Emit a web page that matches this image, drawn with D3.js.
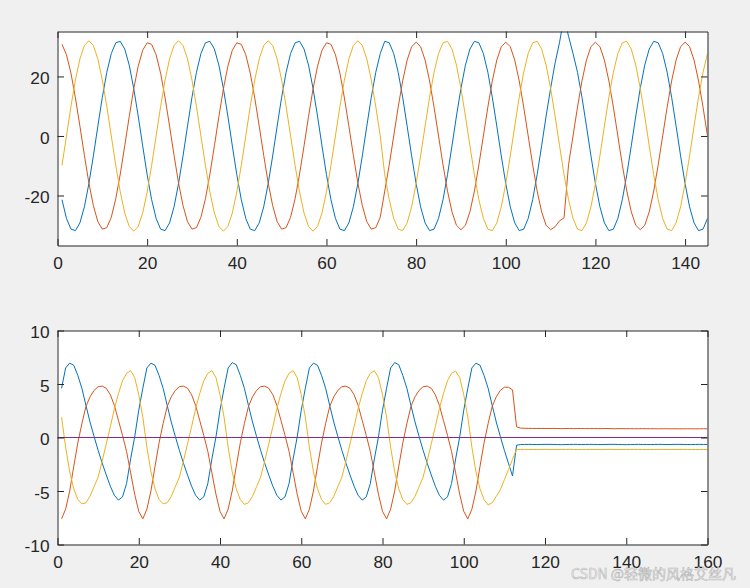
<!DOCTYPE html>
<html><head><meta charset="utf-8">
<script src="https://cdn.jsdelivr.net/npm/d3@7/dist/d3.min.js"></script>
<style>html,body{margin:0;padding:0;background:#f0f0f0;} svg{display:block;}</style>
</head><body>
<svg id="chart" width="750" height="588"></svg>
<script>
// ---------- data: top subplot (samples 1..145) ----------
const topBlue = [
-21.4,-27.7,-31.3,-31.8,-29.2,-23.8,-16.0,-6.7,3.3,13.0,21.4,27.7,31.3,31.8,29.2,23.8,16.0,6.7,-3.3,-13.0,
-21.4,-27.7,-31.3,-31.8,-29.2,-23.8,-16.0,-6.7,3.3,13.0,21.4,27.7,31.3,31.8,29.2,23.8,16.0,6.7,-3.3,-13.0,
-21.4,-27.7,-31.3,-31.8,-29.2,-23.8,-16.0,-6.7,3.3,13.0,21.4,27.7,31.3,31.8,29.2,23.8,16.0,6.7,-3.3,-13.0,
-21.4,-27.7,-31.3,-31.8,-29.2,-23.8,-16.0,-6.7,3.3,13.0,21.4,27.7,
31.8,31.3,27.7,21.4,13.0,3.3,-6.7,-16.0,
-23.8,-29.2,-31.8,-31.3,-27.7,-21.4,-13.0,-3.3,6.7,16.0,23.8,29.2,31.8,31.3,27.7,21.4,13.0,3.3,-6.7,-16.0,
-23.8,-29.2,-31.8,-31.3,-27.7,-21.4,-13.0,-3.3,6.7,16.0,24.5,31.5,40.0,33.5,27.7,21.4,13.0,3.3,-6.7,-16.0,
-23.8,-29.2,-31.8,-31.3,-27.7,-21.4,-13.0,-3.3,6.7,16.0,23.8,29.2,31.8,31.3,27.7,21.4,13.0,3.3,-6.7,-16.0,
-23.8,-29.2,-31.8,-31.3,-27.7
];
const topRed = [
30.8,27.3,21.1,12.8,3.3,-6.5,-15.8,-23.4,-28.8,-31.3,-30.8,-27.3,-21.1,-12.8,-3.3,6.5,15.8,23.4,28.8,31.3,
30.8,27.3,21.1,12.8,3.3,-6.5,-15.8,-23.4,-28.8,-31.3,-30.8,-27.3,-21.1,-12.8,-3.3,6.5,15.8,23.4,28.8,31.3,
30.8,27.3,21.1,12.8,3.3,-6.5,-15.8,-23.4,-28.8,-31.3,-30.8,-27.3,-21.1,-12.8,-3.3,6.5,15.8,23.4,28.8,31.3,
30.8,27.3,21.1,12.8,3.3,-6.5,-15.8,-23.4,-28.8,-31.3,-30.8,-27.3,
-18.5,-9.7,0,9.7,18.5,25.5,30.0,31.5,
30.0,25.5,18.5,9.7,0,-9.7,-18.5,-25.5,-30.0,-31.5,-30.0,-25.5,-18.5,-9.7,0,9.7,18.5,25.5,30.0,31.5,
30.0,25.5,18.5,9.7,0,-9.7,-18.5,-25.5,-30.0,-31.5,-30.5,-28.5,-27.5,-9.7,0,9.7,18.5,25.5,30.0,31.5,
30.0,25.5,18.5,9.7,0,-9.7,-18.5,-25.5,-30.0,-31.5,-30.0,-25.5,-18.5,-9.7,0,9.7,18.5,25.5,30.0,31.5,
30.0,25.5,18.5,9.7,0
];
const topYellow = [
-9.9,0,9.9,18.8,25.9,30.4,32.0,30.4,25.9,18.8,9.9,0,-9.9,-18.8,-25.9,-30.4,-32.0,-30.4,-25.9,-18.8,
-9.9,0,9.9,18.8,25.9,30.4,32.0,30.4,25.9,18.8,9.9,0,-9.9,-18.8,-25.9,-30.4,-32.0,-30.4,-25.9,-18.8,
-9.9,0,9.9,18.8,25.9,30.4,32.0,30.4,25.9,18.8,9.9,0,-9.9,-18.8,-25.9,-30.4,-32.0,-30.4,-25.9,-18.8,
-9.9,0,9.9,18.8,25.9,30.4,32.0,30.4,25.9,18.8,9.9,0,
-13.0,-21.4,-27.7,-31.3,-31.8,-29.2,-23.8,-16.0,
-6.7,3.3,13.0,21.4,27.7,31.3,31.8,29.2,23.8,16.0,6.7,-3.3,-13.0,-21.4,-27.7,-31.3,-31.8,-29.2,-23.8,-16.0,
-6.7,3.3,13.0,21.4,27.7,31.3,31.8,29.2,23.8,16.0,6.7,-3.3,-13.0,-21.4,-27.7,-31.3,-31.8,-29.2,-23.8,-16.0,
-6.7,3.3,13.0,21.4,27.7,31.3,31.8,29.2,23.8,16.0,6.7,-3.3,-13.0,-21.4,-27.7,-31.3,-31.8,-29.2,-23.8,-16.0,
-6.7,3.3,13.0,21.4,27.7
];

// ---------- data: bottom subplot (samples 1..160) ----------
const botBlue = [
4.6,6.5,6.95,6.75,5.8,4.6,3.0,1.45,0.1,-1.2,-2.4,-3.5,-4.55,-5.4,-5.85,-5.55,-4.3,-2.0,0.05,2.55,
4.6,6.5,6.95,6.75,5.8,4.6,3.0,1.45,0.1,-1.2,-2.4,-3.5,-4.55,-5.4,-5.85,-5.55,-4.3,-2.0,0.05,2.55,
4.6,6.5,7.0,6.8,5.8,4.6,3.0,1.45,0.1,-1.2,-2.4,-3.5,-4.55,-5.4,-5.85,-5.55,-4.3,-2.0,0.05,2.55,
4.6,6.5,6.95,6.75,5.8,4.6,3.0,1.45,0.1,-1.2,-2.4,-3.5,-4.55,-5.4,-5.85,-5.55,-4.3,-2.0,0.05,2.55,
4.6,6.5,7.0,6.8,5.8,4.6,3.0,1.45,0.1,-1.2,-2.4,-3.5,-4.55,-5.4,-5.85,-5.55,-4.3,-2.0,0.05,2.55,
4.6,6.5,6.95,6.75,5.8,4.6,3.0,1.45,0.1,-1.2,-2.4,-3.6,
-0.72,
-0.66,-0.65,-0.64,-0.65,-0.66,-0.65,-0.64,-0.64,-0.65,-0.66,-0.67,-0.66,-0.65,-0.64,-0.65,-0.66,-0.65,-0.64,-0.65,-0.66,
-0.66,-0.65,-0.64,-0.64,-0.65,-0.66,-0.67,-0.66,-0.65,-0.64,-0.65,-0.65,-0.66,-0.65,-0.64,-0.65,-0.66,-0.65,-0.64,-0.64,
-0.65,-0.66,-0.66,-0.65,-0.64,-0.65,-0.65
];
const botRed = [
-7.6,-6.7,-5.0,-2.7,-0.5,1.3,2.9,3.8,4.4,4.75,4.8,4.6,4.0,3.0,1.6,0.2,-1.3,-3.3,-5.3,-6.9,
-7.6,-6.7,-5.0,-2.7,-0.5,1.3,2.9,3.8,4.4,4.75,4.8,4.6,4.0,3.0,1.6,0.2,-1.3,-3.3,-5.3,-6.9,
-7.6,-6.7,-5.0,-2.7,-0.5,1.3,2.9,3.8,4.4,4.75,4.8,4.6,4.0,3.0,1.6,0.2,-1.3,-3.3,-5.3,-6.9,
-7.6,-6.7,-5.0,-2.7,-0.5,1.3,2.9,3.8,4.4,4.75,4.8,4.6,4.0,3.0,1.6,0.2,-1.3,-3.3,-5.3,-6.9,
-7.6,-6.7,-5.0,-2.7,-0.5,1.3,2.9,3.8,4.4,4.75,4.8,4.6,4.0,3.0,1.6,0.2,-1.3,-3.3,-5.3,-6.9,
-7.6,-6.7,-5.0,-2.7,-0.5,1.3,2.9,3.8,4.4,4.7,4.7,4.45,
1.0,
0.88,0.86,0.85,0.85,0.84,0.85,0.84,0.84,0.85,0.84,0.83,0.84,0.84,0.83,0.84,0.84,0.83,0.83,0.84,0.83,
0.83,0.84,0.83,0.82,0.83,0.83,0.82,0.83,0.82,0.82,0.83,0.82,0.82,0.82,0.81,0.82,0.82,0.81,0.82,0.81,
0.81,0.82,0.81,0.81,0.81,0.82,0.81
];
const botYellow = [
1.9,-0.9,-3.2,-4.8,-5.8,-6.2,-6.1,-5.5,-4.6,-3.7,-2.2,-0.6,1.0,2.7,4.1,5.3,6.0,6.25,5.6,4.0,
1.9,-0.9,-3.2,-4.8,-5.8,-6.2,-6.1,-5.5,-4.6,-3.7,-2.2,-0.6,1.0,2.7,4.1,5.3,6.0,6.25,5.6,4.0,
1.9,-0.9,-3.2,-4.8,-5.8,-6.25,-6.1,-5.5,-4.6,-3.7,-2.2,-0.6,1.0,2.7,4.1,5.3,6.0,6.25,5.6,4.0,
1.9,-0.9,-3.2,-4.8,-5.8,-6.25,-6.1,-5.5,-4.6,-3.7,-2.2,-0.6,1.0,2.7,4.1,5.3,6.0,6.25,5.6,4.0,
1.9,-0.9,-3.2,-4.8,-5.8,-6.25,-6.1,-5.5,-4.6,-3.7,-2.2,-0.6,1.0,2.7,4.1,5.3,6.0,6.2,5.6,4.0,
1.9,-0.9,-3.2,-4.8,-5.8,-6.3,-6.1,-5.5,-4.9,-3.95,-3.0,-2.05,
-1.1,
-1.12,-1.11,-1.12,-1.12,-1.13,-1.12,-1.11,-1.12,-1.12,-1.13,-1.12,-1.12,-1.11,-1.12,-1.13,-1.12,-1.12,-1.11,-1.12,-1.12,
-1.13,-1.12,-1.11,-1.12,-1.12,-1.12,-1.13,-1.12,-1.11,-1.12,-1.12,-1.13,-1.12,-1.12,-1.11,-1.12,-1.12,-1.13,-1.12,-1.12,
-1.11,-1.12,-1.12,-1.13,-1.12,-1.12,-1.12
];
const refLineX = [0, 160];
const refLineY = [0, 0];

// ---------- ticks ----------
const topXTicks = [0, 20, 40, 60, 80, 100, 120, 140];
const topYTicks = [-20, 0, 20];
const botXTicks = [0, 20, 40, 60, 80, 100, 120, 140, 160];
const botYTicks = [-10, -5, 0, 5, 10];
const watermark = "CSDN @轻微的风格艾丝凡";

// ---------- drawing ----------
const colors = ["#0072BD", "#D95319", "#EDB120", "#7E2F8E"];
const svg = d3.select("#chart");
const L = 57.5, R = 707.5, TL = 6.5;
const axColor = "#262626";
const font = "'Liberation Sans', Arial, Helvetica, sans-serif";

function panel(id, top, bottom, xDomain, yDomain, xTicks, yTicks, series) {
  const x = d3.scaleLinear().domain(xDomain).range([L, R]);
  const y = d3.scaleLinear().domain(yDomain).range([bottom, top]);
  svg.append("rect").attr("x", L).attr("y", top).attr("width", R - L).attr("height", bottom - top).attr("fill", "#fff");
  svg.append("clipPath").attr("id", id).append("rect")
    .attr("x", L).attr("y", top).attr("width", R - L).attr("height", bottom - top);
  const g = svg.append("g").attr("clip-path", `url(#${id})`);
  series.forEach(s => {
    const line = d3.line().x(d => x(d[0])).y(d => y(d[1]));
    g.append("path").attr("d", line(s.pts)).attr("fill", "none")
      .attr("stroke", s.color).attr("stroke-width", s.w || 1).attr("stroke-linejoin", "round");
  });
  const style = sel => {
    sel.selectAll(".domain").attr("stroke", axColor).attr("stroke-width", 1);
    sel.selectAll(".tick line").attr("stroke", axColor).attr("stroke-width", 1);
    sel.selectAll("text").attr("fill", axColor).attr("font-family", font).attr("font-size", "17.3px");
  };
  const gb = svg.append("g").attr("transform", `translate(0,${bottom})`)
    .call(d3.axisBottom(x).tickValues(xTicks).tickSizeInner(-TL).tickSizeOuter(0).tickFormat(d3.format("d")));
  style(gb);
  gb.selectAll("text").attr("y", 23.3).attr("dy", null);
  const gt = svg.append("g").attr("transform", `translate(0,${top})`)
    .call(d3.axisTop(x).tickValues(xTicks).tickSizeInner(-TL).tickSizeOuter(0).tickFormat(""));
  style(gt);
  const gl = svg.append("g").attr("transform", `translate(${L},0)`)
    .call(d3.axisLeft(y).tickValues(yTicks).tickSizeInner(-TL).tickSizeOuter(0).tickFormat(d => String(d)));
  style(gl);
  gl.selectAll("text").attr("x", -8).attr("dy", "0.42em");
  const gr = svg.append("g").attr("transform", `translate(${R},0)`)
    .call(d3.axisRight(y).tickValues(yTicks).tickSizeInner(-TL).tickSizeOuter(0).tickFormat(""));
  style(gr);
}

const pts = arr => arr.map((v, i) => [i + 1, v]);

panel("clipTop", 31.5, 245.5, [0, 145], [-36.8, 35.1], topXTicks, topYTicks, [
  { pts: pts(topBlue), color: colors[0] },
  { pts: pts(topRed), color: colors[1] },
  { pts: pts(topYellow), color: colors[2] }
]);

panel("clipBot", 330.5, 544.5, [0, 160], [-10, 10], botXTicks, botYTicks, [
  { pts: pts(botBlue), color: colors[0] },
  { pts: pts(botRed), color: colors[1] },
  { pts: pts(botYellow), color: colors[2] },
  { pts: refLineX.map((v, i) => [v, refLineY[i]]), color: colors[3], w: 1.2 }
]);

svg.append("text").attr("x", 571).attr("y", 579)
  .attr("font-family", "'Noto Sans CJK SC', sans-serif").attr("font-size", "14px")
  .attr("fill", "#fafafa").attr("stroke", "#b8b8b8").attr("stroke-width", 0.6)
  .text(watermark);
</script>
</body></html>
